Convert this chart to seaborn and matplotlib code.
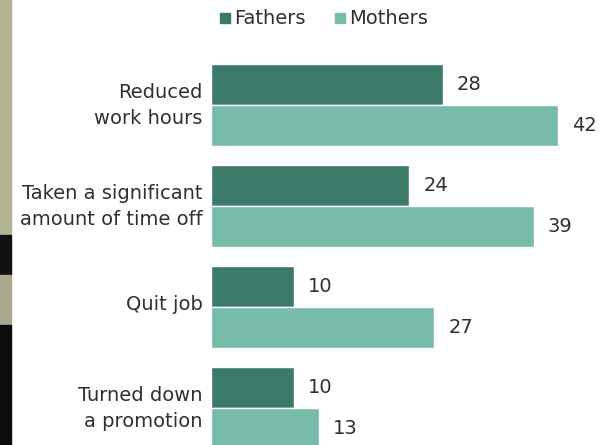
import matplotlib
matplotlib.use("Agg")
import matplotlib.pyplot as plt
import matplotlib.transforms as mtransforms
from matplotlib.patches import Rectangle
from matplotlib.lines import Line2D
import seaborn as sns
import pandas as pd

categories = ["Reduced\nwork hours", "Taken a significant\namount of time off",
              "Quit job", "Turned down\na promotion"]
fathers = [28, 24, 10, 10]
mothers = [42, 39, 27, 13]
series = ["Fathers", "Mothers"]
colors = ["#3b7a68", "#76bca9"]

df = pd.DataFrame({
    "category": categories * 2,
    "value": fathers + mothers,
    "group": ["Fathers"] * 4 + ["Mothers"] * 4,
})

sns.set_theme(style="white")
plt.rcParams["font.family"] = ["DejaVu Sans"]

fig = plt.figure(figsize=(6, 4.45), dpi=100)
fig.patch.set_facecolor("white")

# decorative photo strip on left edge
W, H = 600, 445
def strip(y0, y1, c):
    fig.patches.append(Rectangle((0, 1 - y1 / H), 11 / W, (y1 - y0) / H,
                                 transform=fig.transFigure, color=c, zorder=0))
strip(0, 235, "#b3b396")
strip(235, 275, "#111111")
strip(275, 325, "#a9a88c")
strip(325, 445, "#0c0c0c")

ax = fig.add_axes([211 / W, 0, (W - 211) / W, (H - 54.5) / H])
sns.barplot(data=df, y="category", x="value", hue="group", orient="h",
            palette=colors, width=0.81, ax=ax, legend=False, saturation=1)

FS = 14
TXT = "#303030"
for cont in ax.containers:
    ax.bar_label(cont, padding=10, fontsize=FS, color=TXT)

ax.set_xlim(0, (W - 211) / 8.27)
ax.set_ylim(3.366, -0.5)
ax.set_xlabel("")
ax.set_ylabel("")
ax.set_xticks([])
ax.tick_params(axis="y", length=0, pad=6, labelsize=FS, labelcolor=TXT)
shift = mtransforms.ScaledTranslation(0, 5 / 100, fig.dpi_scale_trans)
for lab in ax.get_yticklabels():
    lab.set_linespacing(1.45)
    lab.set_transform(lab.get_transform() + shift)
sns.despine(ax=ax, left=True, bottom=True)
ax.patch.set_alpha(0)

handles = [Line2D([], [], marker="s", linestyle="", markersize=7.5,
                  markerfacecolor=c, markeredgecolor=c) for c in colors]
fig.legend(handles, series, loc="center", bbox_to_anchor=(0.537, 1 - 19 / H),
           ncol=2, frameon=False, fontsize=FS, handletextpad=0.05,
           handlelength=0.9, columnspacing=1.3, labelcolor=TXT)

fig.savefig("out.png", dpi=100, facecolor="white")
